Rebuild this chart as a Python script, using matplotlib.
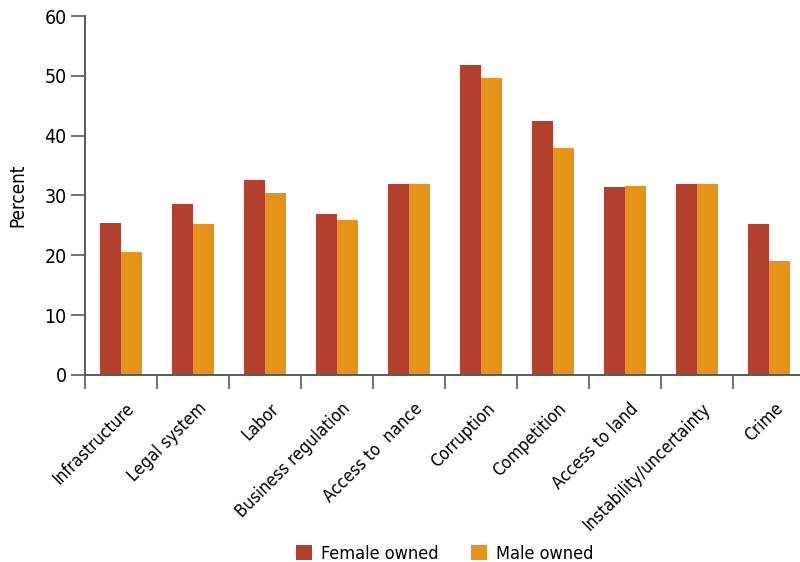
import numpy as np
import matplotlib.pyplot as plt
from matplotlib.transforms import ScaledTranslation, blended_transform_factory

# Data
categories = ["Infrastructure", "Legal system", "Labor", "Business regulation",
              "Access to  nance", "Corruption", "Competition", "Access to land",
              "Instability/uncertainty", "Crime"]
female_owned = [25.4, 28.6, 32.6, 26.9, 31.9, 51.8, 42.5, 31.4, 31.9, 25.25]
male_owned = [20.6, 25.25, 30.4, 25.9, 31.9, 49.7, 38.0, 31.6, 31.9, 19.1]
y_ticks = [0, 10, 20, 30, 40, 50, 60]

red = "#b3402c"
orange = "#e69319"
grey = "#5a5a5a"

plt.rcParams['font.family'] = ['DejaVu Sans']
plt.rcParams['font.stretch'] = 'condensed'

fig = plt.figure(figsize=(8, 5.62), dpi=100)
ax = fig.add_axes([0.106, 0.333, 0.894, 0.6385])

x = np.arange(len(categories))
w = 0.29
ax.bar(x - w / 2, female_owned, w, color=red, label="Female owned")
ax.bar(x + w / 2, male_owned, w, color=orange, label="Male owned")

ax.set_xlim(-0.5, 9.43)
ax.set_ylim(0, 60)
ax.set_yticks(y_ticks)
ax.set_ylabel("Percent", fontsize=13.5, labelpad=12)

# ticks between categories, labels at centers
ax.set_xticks(np.arange(len(categories)) - 0.5)
ax.set_xticklabels([])
ax.tick_params(axis="x", length=10, width=1.2, color=grey)
ax.tick_params(axis="y", length=10, width=1.2, color=grey, labelsize=14, pad=3)

trans = blended_transform_factory(ax.transData, ax.transAxes) + \
    ScaledTranslation(0.11, -0.31, fig.dpi_scale_trans)
for xi, lab in zip(x, categories):
    ax.text(xi, 0, lab, transform=trans, rotation=45, ha="right", va="center",
            rotation_mode="anchor", fontsize=12.5)

for s in ["top", "right"]:
    ax.spines[s].set_visible(False)
for s in ["left", "bottom"]:
    ax.spines[s].set_color(grey)
    ax.spines[s].set_linewidth(1.4)

fig.legend(loc="lower center", bbox_to_anchor=(0.556, -0.03), ncol=2,
           frameon=False, fontsize=13, handlelength=0.9, handleheight=0.9,
           columnspacing=1.8, handletextpad=0.5)

fig.savefig("out.png", dpi=100)
